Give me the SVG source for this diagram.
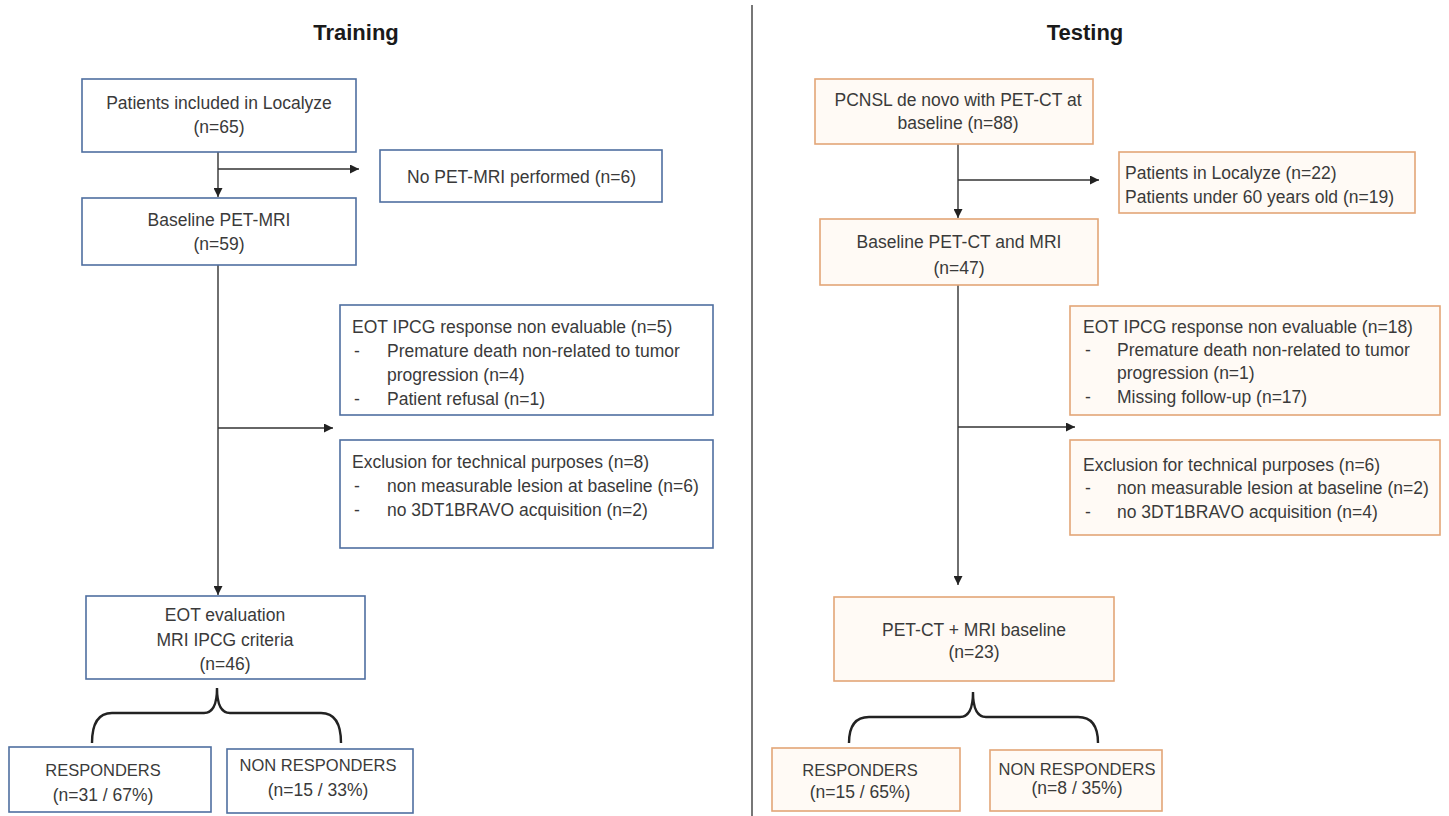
<svg xmlns="http://www.w3.org/2000/svg" width="1449" height="816" viewBox="0 0 1449 816">
<style>
text{font-family:"Liberation Sans",Arial,sans-serif;font-size:17.5px;fill:#3a3a3a}
.t{font-size:22px;font-weight:bold;fill:#1a1a1a}
.c{text-anchor:middle}
.k{font-size:16.5px}
.b{fill:#ffffff;stroke:#4f6fa0;stroke-width:1.6}
.o{fill:#fffaf5;stroke:#e3a677;stroke-width:1.6}
.l{fill:none;stroke:#333;stroke-width:1.4}
.br{fill:none;stroke:#222;stroke-width:2.4}
</style>
<defs>
<marker id="ah" viewBox="0 0 10 10" refX="10" refY="5" markerWidth="10" markerHeight="9" markerUnits="userSpaceOnUse" orient="auto">
<path d="M0,0L10,5L0,10z" fill="#222"/>
</marker>
</defs>
<rect width="1449" height="816" fill="#ffffff"/>
<text class="t c" x="356" y="40">Training</text>
<text class="t c" x="1085" y="40">Testing</text>
<line x1="752" y1="5" x2="752" y2="816" stroke="#555" stroke-width="1.6"/>

<g id="connectors">
<line class="l" x1="218" y1="152" x2="218" y2="197" marker-end="url(#ah)"/>
<line class="l" x1="218" y1="169" x2="359" y2="169" marker-end="url(#ah)"/>
<line class="l" x1="218" y1="265" x2="218" y2="595" marker-end="url(#ah)"/>
<line class="l" x1="218" y1="428" x2="333" y2="428" marker-end="url(#ah)"/>
<path class="br" d="M92,743 Q92,713 112,713 L204,713 Q217,713 217,688 Q217,713 230,713 L321,713 Q341,713 341,743"/>
<line class="l" x1="958" y1="144" x2="958" y2="218" marker-end="url(#ah)"/>
<line class="l" x1="958" y1="180" x2="1099" y2="180" marker-end="url(#ah)"/>
<line class="l" x1="958" y1="285" x2="958" y2="585" marker-end="url(#ah)"/>
<line class="l" x1="958" y1="427" x2="1075" y2="427" marker-end="url(#ah)"/>
<path class="br" d="M849,743 Q849,717 869,717 L960,717 Q973,717 973,692 Q973,717 986,717 L1078,717 Q1098,717 1098,743"/>
</g>

<g id="tr1"><rect class="b" x="82" y="79" width="274" height="73"/>
<text class="c" x="219" y="109">Patients included in Localyze</text>
<text class="c" x="219" y="133">(n=65)</text></g>

<g id="tr2"><rect class="b" x="380" y="150" width="282" height="52"/>
<text x="407" y="183">No PET-MRI performed (n=6)</text></g>

<g id="tr3"><rect class="b" x="82" y="198" width="274" height="67"/>
<text class="c" x="219" y="226">Baseline PET-MRI</text>
<text class="c" x="219" y="250">(n=59)</text></g>

<g id="tr4"><rect class="b" x="340" y="305" width="373" height="110"/>
<text x="352" y="333">EOT IPCG response non evaluable (n=5)</text>
<text x="354" y="357">-</text><text x="387" y="357">Premature death non-related to tumor</text>
<text x="387" y="381">progression (n=4)</text>
<text x="354" y="405">-</text><text x="387" y="405">Patient refusal (n=1)</text></g>

<g id="tr5"><rect class="b" x="340" y="440" width="373" height="108"/>
<text x="352" y="468">Exclusion for technical purposes (n=8)</text>
<text x="354" y="492">-</text><text x="387" y="492">non measurable lesion at baseline (n=6)</text>
<text x="354" y="516">-</text><text x="387" y="516">no 3DT1BRAVO acquisition (n=2)</text></g>

<g id="tr6"><rect class="b" x="86" y="596" width="279" height="83"/>
<text class="c" x="225" y="621">EOT evaluation</text>
<text class="c" x="225" y="646">MRI IPCG criteria</text>
<text class="c" x="225" y="670">(n=46)</text></g>

<g id="tr7"><rect class="b" x="9" y="747" width="202" height="65"/>
<text class="c k" x="103" y="776">RESPONDERS</text>
<text class="c" x="103" y="801">(n=31 / 67%)</text></g>

<g id="tr8"><rect class="b" x="227" y="749" width="186" height="64"/>
<text class="c k" x="318" y="771">NON RESPONDERS</text>
<text class="c" x="318" y="796">(n=15 / 33%)</text></g>

<g id="te1"><rect class="o" x="815" y="79" width="278" height="65"/>
<text class="c" x="958" y="106">PCNSL de novo with PET-CT at</text>
<text class="c" x="958" y="129">baseline (n=88)</text></g>

<g id="te2"><rect class="o" x="1119" y="152" width="296" height="61"/>
<text x="1125" y="179">Patients in Localyze (n=22)</text>
<text x="1125" y="203">Patients under 60 years old (n=19)</text></g>

<g id="te3"><rect class="o" x="820" y="219" width="278" height="66"/>
<text class="c" x="959" y="248">Baseline PET-CT and MRI</text>
<text class="c" x="959" y="274">(n=47)</text></g>

<g id="te4"><rect class="o" x="1070" y="306" width="370" height="109"/>
<text x="1083" y="333">EOT IPCG response non evaluable (n=18)</text>
<text x="1085" y="356">-</text><text x="1117" y="356">Premature death non-related to tumor</text>
<text x="1117" y="379">progression (n=1)</text>
<text x="1085" y="403">-</text><text x="1117" y="403">Missing follow-up (n=17)</text></g>

<g id="te5"><rect class="o" x="1070" y="440" width="370" height="95"/>
<text x="1083" y="471">Exclusion for technical purposes (n=6)</text>
<text x="1085" y="494">-</text><text x="1117" y="494">non measurable lesion at baseline (n=2)</text>
<text x="1085" y="518">-</text><text x="1117" y="518">no 3DT1BRAVO acquisition (n=4)</text></g>

<g id="te6"><rect class="o" x="834" y="597" width="280" height="84"/>
<text class="c" x="974" y="636">PET-CT + MRI baseline</text>
<text class="c" x="974" y="658">(n=23)</text></g>

<g id="te7"><rect class="o" x="772" y="748" width="188" height="63"/>
<text class="c k" x="860" y="776">RESPONDERS</text>
<text class="c" x="860" y="798">(n=15 / 65%)</text></g>

<g id="te8"><rect class="o" x="990" y="750" width="172" height="61"/>
<text class="c k" x="1077" y="775">NON RESPONDERS</text>
<text class="c" x="1077" y="794">(n=8 / 35%)</text></g>
</svg>
